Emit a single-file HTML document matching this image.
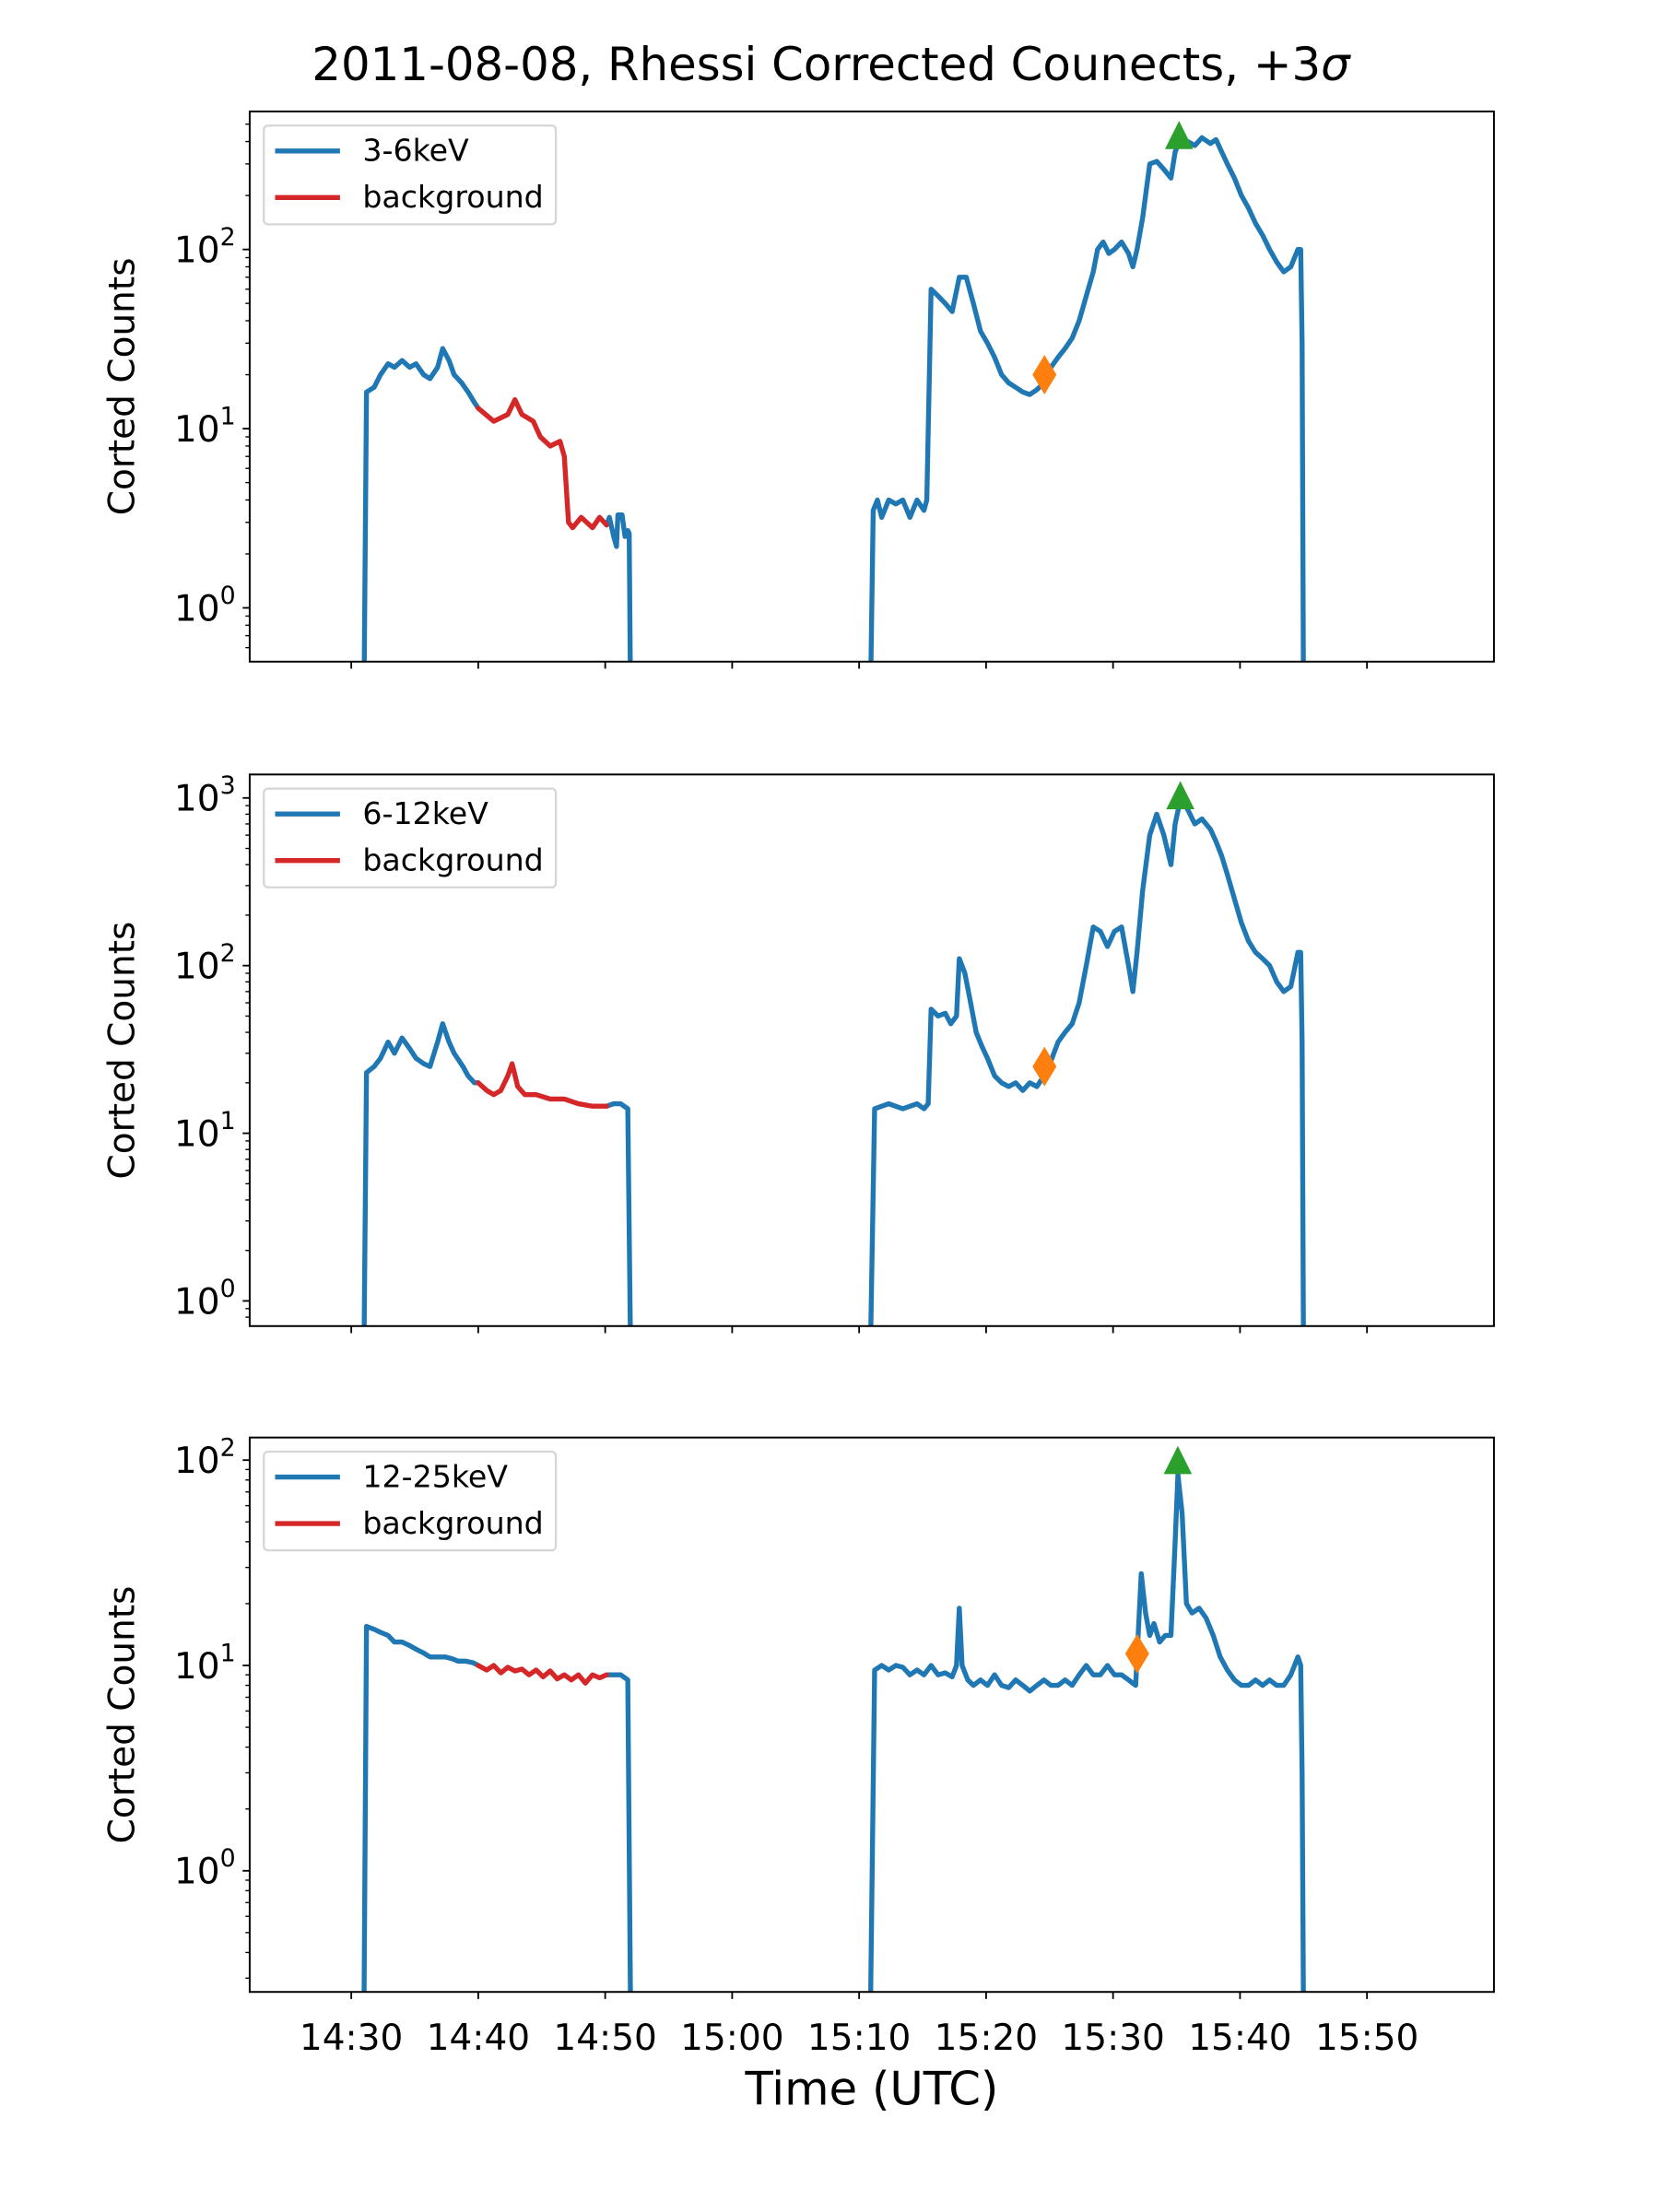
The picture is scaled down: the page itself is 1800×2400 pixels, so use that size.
<!DOCTYPE html>
<html><head><meta charset="utf-8"><style>
html,body{margin:0;padding:0;background:#fff;}
svg{display:block;font-family:"DejaVu Sans","Liberation Sans",sans-serif;}
</style></head><body>
<svg id="fig" width="1800" height="2400" viewBox="0 0 1176 1568" xmlns="http://www.w3.org/2000/svg">
<rect width="1176" height="1568" fill="#fff"/>
<text x="589" y="57" font-size="32.5" text-anchor="middle">2011-08-08, Rhessi Corrected Counects, +3<tspan font-style="italic">σ</tspan></text>
<text x="618" y="1492" font-size="32.5" text-anchor="middle">Time (UTC)</text>
</svg>
<script>
// time in minutes after 14:30 UTC
const tickLabels=["14:30","14:40","14:50","15:00","15:10","15:20","15:30","15:40","15:50"];
const tickTimes=[0,10,20,30,40,50,60,70,80];

const p1Blue1T=[1.0,1.2,1.8,2.3,2.9,3.4,4.0,4.6,5.1,5.7,6.2,6.8,7.2,7.7,8.1,8.7,9.2,9.7,10];
const p1Blue1V=[0.3,16,17,20,23,22,24,22,23,20,19,22,28,24,20,18,16,14,13];
const p1RedT=[10,11.22,12.33,12.89,13.44,14.33,14.89,15.67,16.44,16.78,17.11,17.44,18.11,19,19.56,20.11];
const p1RedV=[13,11,12,14.5,12,11,9,8,8.5,7,3,2.8,3.2,2.8,3.2,2.9];
const p1Blue2T=[20.11,20.33,20.67,20.89,21,21.33,21.56,21.78,21.89,22];
const p1Blue2V=[2.9,3.2,2.5,2.2,3.3,3.3,2.5,2.7,2.6,0.3];
const p1Blue3T=[40.89,41.11,41.44,41.78,42.33,42.89,43.44,44,44.56,45.11,45.33,45.67,46.22,46.78,47.33,47.89,48.44,49,49.56,50.11,50.67,51.22,51.78,52.33,52.89,53.44,54,54.56,55.11,55.67,56.22,56.78,57.33,57.89,58.44,58.78,59.22,59.67,60.11,60.67,61.22,61.56,61.89,62.33,62.89,63.44,64,64.56,64.89,65.33,65.89,66.44,67,67.67,68.11,68.56,69,69.56,70.11,70.67,71.22,71.78,72.33,72.89,73.44,74,74.56,74.78,74.89,75];
const p1Blue3V=[0.3,3.5,4,3.2,4,3.8,4,3.2,4,3.5,4,60,55,50,45,70,70,50,35,30,25,20,18,17,16,15.5,16.5,18,22,25,28,32,40,55,75,100,110,95,100,110,95,80,100,150,300,310,280,250,350,420,400,380,420,390,410,350,300,250,200,170,140,120,100,85,75,80,100,100,30,0.3];
const p1Marks={startT:54.6,startV:20,peakT:65.2,peakV:420};

const p2Blue1T=[1.0,1.2,1.8,2.3,2.9,3.4,4.0,4.6,5.1,5.7,6.2,6.8,7.2,7.7,8.1,8.8,9.2,9.7,10];
const p2Blue1V=[0.5,23,25,28,35,30,37,32,28,26,25,35,45,35,30,25,22,20,20];
const p2RedT=[10,10.67,11.22,11.78,12.33,12.67,13.11,13.67,14.56,15.67,16.78,17.89,19,20.11];
const p2RedV=[20,18,17,18,22,26,19,17,17,16,16,15,14.5,14.5];
const p2Blue2T=[20.11,20.67,21.22,21.78,22];
const p2Blue2V=[14.5,15,15,14,0.5];
const p2Blue3T=[40.89,41.22,41.78,42.33,43.44,44.56,45.11,45.44,45.67,46.22,46.78,47.22,47.67,47.89,48.33,48.78,49.22,49.67,50.11,50.67,51.22,51.78,52.33,52.89,53.44,54,54.56,55.11,55.67,56.22,56.78,57.33,57.89,58.44,59,59.56,60.11,60.67,61.22,61.56,61.89,62.33,62.89,63.44,64,64.56,64.89,65.33,65.89,66.44,67,67.67,68.11,68.56,69,69.56,70.11,70.67,71.22,71.78,72.33,72.89,73.44,74,74.56,74.78,74.89,75];
const p2Blue3V=[0.5,14,14.5,15,14,15,14,15,55,50,52,45,50,110,90,60,40,33,28,22,20,19,20,18,20,19,22,27,35,40,45,60,100,170,160,130,160,170,100,70,120,280,600,800,600,400,700,1000,850,700,750,650,550,450,350,250,180,140,120,110,100,80,70,75,120,120,35,0.5];
const p2Marks={startT:54.6,startV:25,peakT:65.3,peakV:1000};

const p3Blue1T=[1.0,1.2,1.8,2.3,2.9,3.4,4.0,4.6,5.1,5.7,6.2,6.8,7.4,7.9,8.4,9.0,9.6,10];
const p3Blue1V=[0.2,15.5,15,14.5,14,13,13,12.5,12,11.5,11,11,11,10.8,10.5,10.5,10.3,10];
const p3RedT=[10,10.67,11.22,11.78,12.33,12.89,13.44,14,14.56,15.11,15.67,16.22,16.78,17.33,17.89,18.44,19,19.56,20.11];
const p3RedV=[10,9.5,10,9.2,9.8,9.4,9.6,9,9.5,8.8,9.4,8.6,9,8.5,9,8.2,9,8.7,9];
const p3Blue2T=[20.11,20.67,21.22,21.78,22];
const p3Blue2V=[9,9,9,8.5,0.2];
const p3Blue3T=[40.89,41.22,41.78,42.33,42.89,43.44,44,44.56,45.11,45.67,46.22,46.78,47.33,47.67,47.89,48.11,48.56,49,49.56,50.11,50.67,51.22,51.78,52.33,52.89,53.44,54,54.56,55.11,55.67,56.22,56.78,57.33,57.89,58.44,59,59.56,60.11,60.67,61.22,61.78,62,62.22,62.56,62.89,63.22,63.67,64.11,64.56,64.89,65.11,65.44,65.78,66.22,66.78,67.33,67.89,68.44,69,69.56,70.11,70.67,71.22,71.78,72.33,72.89,73.44,74,74.56,74.78,74.89,75];
const p3Blue3V=[0.2,9.5,10,9.5,10,9.8,9,9.5,9,10,9,9.2,8.8,10,19,10,8.5,8,8.5,8,9,8,7.8,8.5,8,7.5,8,8.5,8,8,8.5,8,9,10,9,9,10,9,9,8.5,8,15,28,18,14,16,13,14,14,40,85,55,20,18,19,17,14,11,9.5,8.5,8,8,8.5,8,8.5,8,8,9,11,10,3,0.2];
const p3Marks={startT:61.9,startV:11.4,peakT:65.1,peakV:97};

const NS="http://www.w3.org/2000/svg";
const svg=document.getElementById('fig');
const X0=177,X1=1059;
function xs(t){return 249+9*t;}
function mk(tag,attrs,parent){const e=document.createElementNS(NS,tag);for(const k in attrs)e.setAttribute(k,attrs[k]);(parent||svg).appendChild(e);return e;}

const panels=[
 {top:79,bot:469,yTopLog:2.77,yBotLog:-0.30,label:"3-6keV",series:[[p1Blue1T,p1Blue1V,'#1f77b4'],[p1Blue2T,p1Blue2V,'#1f77b4'],[p1Blue3T,p1Blue3V,'#1f77b4'],[p1RedT,p1RedV,'#d62728']],m:p1Marks},
 {top:549,bot:940,yTopLog:3.14,yBotLog:-0.15,label:"6-12keV",series:[[p2Blue1T,p2Blue1V,'#1f77b4'],[p2Blue2T,p2Blue2V,'#1f77b4'],[p2Blue3T,p2Blue3V,'#1f77b4'],[p2RedT,p2RedV,'#d62728']],m:p2Marks},
 {top:1019,bot:1412,yTopLog:2.11,yBotLog:-0.59,label:"12-25keV",series:[[p3Blue1T,p3Blue1V,'#1f77b4'],[p3Blue2T,p3Blue2V,'#1f77b4'],[p3Blue3T,p3Blue3V,'#1f77b4'],[p3RedT,p3RedV,'#d62728']],m:p3Marks}
];

panels.forEach((p,i)=>{
 const g=mk('g',{});
 
 
 const ys=v=>p.bot-(Math.log10(v)-p.yBotLog)/(p.yTopLog-p.yBotLog)*(p.bot-p.top);
 const cp=mk('clipPath',{id:'c'+i},g);
 mk('rect',{x:X0,y:p.top,width:X1-X0,height:p.bot-p.top},cp);
 const data=mk('g',{'clip-path':'url(#c'+i+')'},g);
 p.series.forEach((s,j)=>{
  const d=s[0].map((t,k)=>(k?'L':'M')+xs(t).toFixed(2)+','+ys(Math.max(s[1][k],1e-3)).toFixed(2)).join('');
  const path=mk('path',{d:d,fill:'none',stroke:s[2],'stroke-width':3.5,'stroke-linejoin':'round','stroke-linecap':'round'},data);
  
  
 });
 const sx=xs(p.m.startT),sy=ys(p.m.startV);
 const dia=mk('path',{d:`M${sx},${sy-14}L${sx+8.5},${sy}L${sx},${sy+14}L${sx-8.5},${sy}Z`,fill:'#ff7f0e'},data);
 
 
 const px=xs(p.m.peakT),py=ys(p.m.peakV);
 const tri=mk('path',{d:`M${px},${py-12}L${px+10},${py+8}L${px-10},${py+8}Z`,fill:'#2ca02c'},data);
 
 
 mk('rect',{x:X0,y:p.top,width:X1-X0,height:p.bot-p.top,fill:'none',stroke:'#000','stroke-width':1.3},g);
 tickTimes.forEach((t,k)=>{
  mk('line',{x1:xs(t),x2:xs(t),y1:p.bot,y2:p.bot+5,stroke:'#000','stroke-width':1.2},g);
  if(i===2){const tl=mk('text',{x:xs(t),y:p.bot+41,'font-size':25.5,'text-anchor':'middle'},g);tl.textContent=tickLabels[k];
   
   }
 });
 for(let d=-1;d<=3;d++){for(let m=1;m<10;m++){const v=m*Math.pow(10,d);const lv=Math.log10(v);
  if(lv<p.yBotLog||lv>p.yTopLog)continue;const y=ys(v);
  mk('line',{x1:X0-(m===1?5:3),x2:X0,y1:y,y2:y,stroke:'#000','stroke-width':m===1?1.2:0.9},g);
  if(m===1){const tl=mk('text',{x:X0-10,y:y+9,'font-size':25.5,'text-anchor':'end'},g);
   tl.innerHTML='10<tspan dy="-12" font-size="17.5">'+d+'</tspan>';
   
   }
 }}
 const yl=mk('text',{x:0,y:0,'font-size':25.5,'text-anchor':'middle',transform:`translate(95,${(p.top+p.bot)/2}) rotate(-90)`},g);
 yl.textContent='Corted Counts';
 
 
 const lg=mk('g',{},g);
 
 
 mk('rect',{x:187,y:p.top+10,width:207,height:70,rx:3,fill:'#fff','fill-opacity':0.8,stroke:'#d6d6d6','stroke-width':1.5},lg);
 [[p.label,'#1f77b4',28],['background','#d62728',61]].forEach(e=>{
  mk('line',{x1:195,x2:241,y1:p.top+e[2],y2:p.top+e[2],stroke:e[1],'stroke-width':3.5},lg);
  const t=mk('text',{x:257,y:p.top+e[2]+7,'font-size':21.7},lg);t.textContent=e[0];
  
  
 });
});
</script>
</body></html>
